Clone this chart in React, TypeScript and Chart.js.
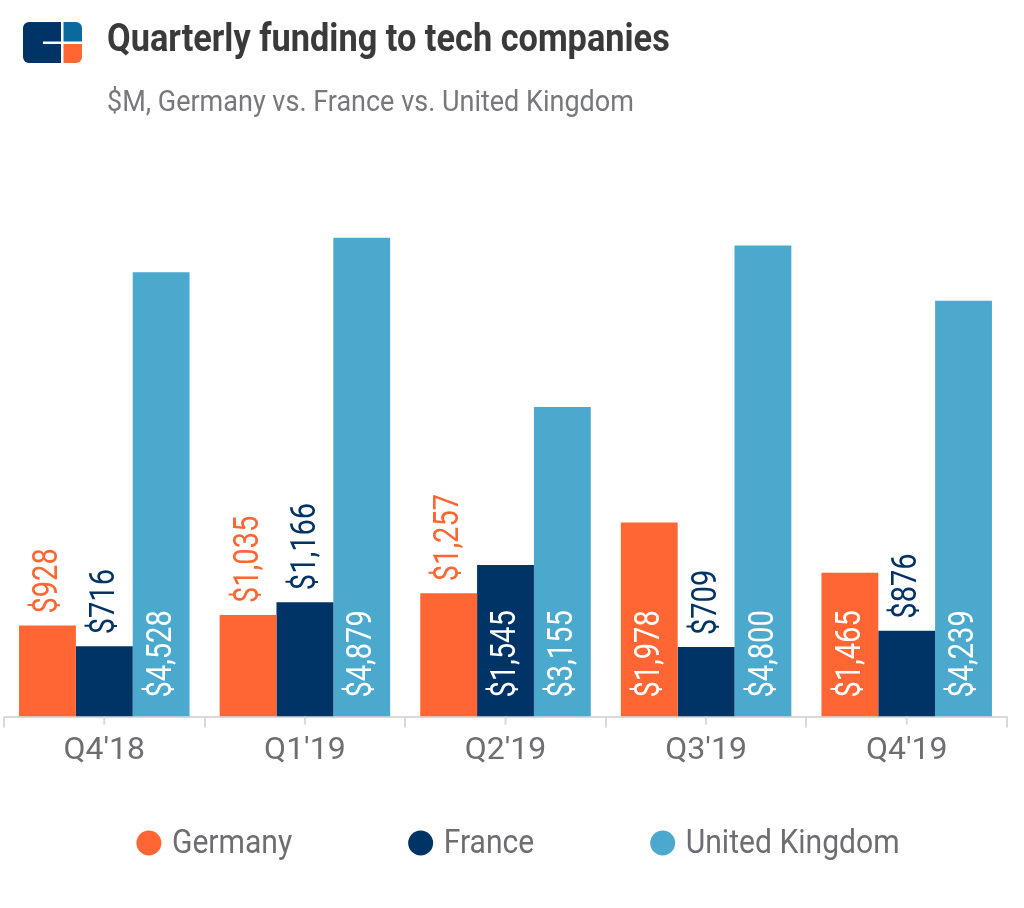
import React, { useEffect, useRef } from 'react';
import { Chart, registerables } from 'chart.js';

Chart.register(...registerables);

// ---------- data ----------
const quarters = ["Q4'18", "Q1'19", "Q2'19", "Q3'19", "Q4'19"];
const germany = [928, 1035, 1257, 1978, 1465];
const france = [716, 1166, 1545, 709, 876];
const unitedKingdom = [4528, 4879, 3155, 4800, 4239];
const seriesNames = ['Germany', 'France', 'United Kingdom'];
const seriesColors = ['#FF6633', '#003366', '#4BA9CE'];

const TITLE = 'Quarterly funding to tech companies';
const SUBTITLE = '$M, Germany vs. France vs. United Kingdom';

// ---------- style ----------
const FONT = 'Roboto, "Noto Sans", "DejaVu Sans", sans-serif';
const SQUEEZE = 0.9; // horizontal squeeze to imitate a condensed face
const LABEL_SQUEEZE = 0.83;
const GRAY = '#6d6e71';

const fmt = (v: number) => '$' + v.toLocaleString('en-US');

const barLabelPlugin = {
  id: 'barLabels',
  afterDatasetsDraw(chart: any) {
    const ctx = chart.ctx;
    ctx.save();
    ctx.font = `400 35px ${FONT}`;
    ctx.textBaseline = 'middle';
    ctx.textAlign = 'left';
    chart.data.datasets.forEach((ds: any, di: number) => {
      const meta = chart.getDatasetMeta(di);
      meta.data.forEach((bar: any, i: number) => {
        const v = ds.data[i] as number;
        const text = fmt(v);
        const w = ctx.measureText(text).width * LABEL_SQUEEZE;
        const { x, y, base } = bar.getProps(['x', 'y', 'base'], true);
        const h = base - y;
        const inside = h >= w + 48;
        const start = inside ? base - 19 : y - 12;
        ctx.save();
        ctx.translate(x + 1, start);
        ctx.rotate(-Math.PI / 2);
        ctx.scale(LABEL_SQUEEZE, 1);
        ctx.fillStyle = inside ? '#ffffff' : ds.backgroundColor;
        ctx.fillText(text, 0, 0);
        ctx.restore();
      });
    });
    ctx.restore();
  },
};

const centerTicksPlugin = {
  id: 'centerTicks',
  afterDraw(chart: any) {
    const xs = chart.scales.x;
    const ctx = chart.ctx;
    ctx.save();
    ctx.strokeStyle = '#d9d9d9';
    ctx.lineWidth = 2;
    chart.data.labels.forEach((_: any, i: number) => {
      const px = xs.getPixelForValue(i);
      ctx.beginPath();
      ctx.moveTo(px, xs.top);
      ctx.lineTo(px, xs.top + 8);
      ctx.stroke();
    });
    ctx.restore();
  },
};

const legendPlugin = {
  id: 'customLegend',
  afterDraw(chart: any) {
    const ctx = chart.ctx;
    const r = 12.5;
    const circleGap = 10.5;
    const itemGap = 116;
    const baseline = 853;
    const cy = 843;
    const centerX = 518;
    ctx.save();
    ctx.font = `400 34px ${FONT}`;
    ctx.textBaseline = 'alphabetic';
    ctx.textAlign = 'left';
    const items = chart.data.datasets.map((ds: any) => ({
      label: ds.label as string,
      color: ds.backgroundColor as string,
      w: ctx.measureText(ds.label).width * 0.885,
    }));
    const total = items.reduce((s: number, it: any) => s + 2 * r + circleGap + it.w, 0) + itemGap * (items.length - 1);
    let x = centerX - total / 2;
    items.forEach((it: any) => {
      ctx.fillStyle = it.color;
      ctx.beginPath();
      ctx.arc(x + r, cy, r, 0, Math.PI * 2);
      ctx.fill();
      const tx = x + 2 * r + circleGap;
      ctx.save();
      ctx.translate(tx, baseline);
      ctx.scale(0.885, 1);
      ctx.fillStyle = GRAY;
      ctx.fillText(it.label, 0, 0);
      ctx.restore();
      x = tx + it.w + itemGap;
    });
    ctx.restore();
  },
};

function Logo() {
  return (
    <svg
      width={60}
      height={41}
      viewBox="0 0 60 41"
      style={{ position: 'absolute', left: 23, top: 22 }}
    >
      <path d="M6,0 H38 V41 H6 A6,6 0 0 1 0,35 V6 A6,6 0 0 1 6,0 Z" fill="#003366" />
      <rect x={20} y={19.5} width={18} height={2.5} fill="#ffffff" />
      <path d="M40.5,0 H53 A6,6 0 0 1 59,6 V19.5 H40.5 Z" fill="#0A6A9E" />
      <path d="M40.5,22 H59 V35 A6,6 0 0 1 53,41 H40.5 Z" fill="#FF6633" />
    </svg>
  );
}

export default function App() {
  const canvasRef = useRef<HTMLCanvasElement | null>(null);

  useEffect(() => {
    if (!canvasRef.current) return;
    const seriesValues = [germany, france, unitedKingdom];
    const chart = new Chart(canvasRef.current, {
      type: 'bar',
      data: {
        labels: quarters,
        datasets: seriesNames.map((name, i) => ({
          label: name,
          data: seriesValues[i],
          backgroundColor: seriesColors[i],
          borderWidth: 0,
          categoryPercentage: 0.85,
          barPercentage: 1,
        })),
      },
      options: {
        responsive: false,
        animation: false,
        layout: { padding: { left: 4, right: 17, top: 226, bottom: 134 } },
        plugins: {
          legend: { display: false },
          title: { display: false },
          tooltip: { enabled: false },
        },
        scales: {
          x: {
            grid: {
              offset: true,
              drawOnChartArea: false,
              drawTicks: true,
              tickLength: 11,
              color: '#d9d9d9',
              lineWidth: 2,
            },
            border: { color: '#d9d9d9', width: 2 },
            ticks: {
              color: GRAY,
              font: { family: FONT, size: 32 },
              padding: 4,
            },
          },
          y: { display: false, min: 0, max: 5000 },
        },
      },
      plugins: [barLabelPlugin, centerTicksPlugin, legendPlugin],
    });
    return () => chart.destroy();
  }, []);

  return (
    <div
      style={{
        position: 'fixed',
        left: 0,
        top: 0,
        width: 1024,
        height: 908,
        background: '#ffffff',
        overflow: 'hidden',
      }}
    >
      <canvas
        ref={canvasRef}
        width={1024}
        height={908}
        style={{ position: 'absolute', left: 0, top: 0, width: 1024, height: 908 }}
      />
      <Logo />
      <div
        style={{
          position: 'absolute',
          left: 107,
          top: 19,
          fontFamily: FONT,
          fontWeight: 700,
          fontSize: 39,
          lineHeight: 1,
          color: '#3a3a3a',
          whiteSpace: 'nowrap',
          transform: 'scaleX(0.88)',
          transformOrigin: 'left top',
        }}
      >
        {TITLE}
      </div>
      <div
        style={{
          position: 'absolute',
          left: 107,
          top: 86,
          fontFamily: FONT,
          fontWeight: 400,
          fontSize: 30,
          lineHeight: 1,
          color: '#77787b',
          whiteSpace: 'nowrap',
          transform: `scaleX(${SQUEEZE})`,
          transformOrigin: 'left top',
        }}
      >
        {SUBTITLE}
      </div>
    </div>
  );
}
